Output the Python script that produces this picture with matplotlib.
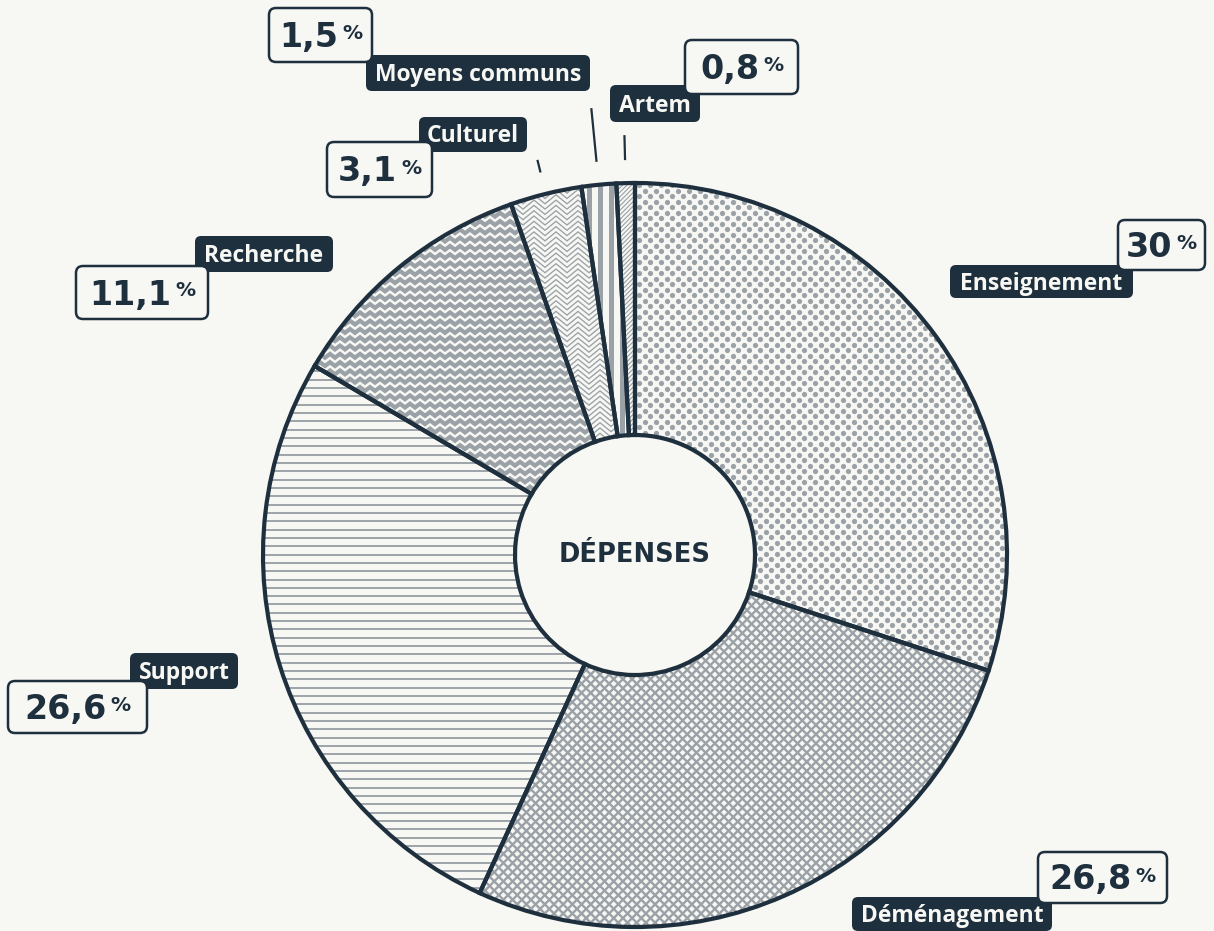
import numpy as np
import matplotlib.pyplot as plt
from matplotlib.patches import FancyBboxPatch, PathPatch
from matplotlib.collections import LineCollection

plt.rcParams['font.family'] = ['Open Sans', 'DejaVu Sans']

categories = ["Enseignement", "Déménagement", "Support", "Recherche",
              "Culturel", "Moyens communs", "Artem"]
values = [30, 26.8, 26.6, 11.1, 3.1, 1.5, 0.8]
value_labels = ["30", "26,8", "26,6", "11,1", "3,1", "1,5", "0,8"]

BG = "#f7f7f3"
DARK = "#1e2f3e"
GREY = "#9aa1a7"

W, H = 1214, 931
cx, cy = 635, 555
R, R_in = 372, 120

# label boxes in pixel units (left, top, width, height)
name_boxes = {
    "Enseignement": (950, 265, 183, 33),
    "Déménagement": (852, 897, 200, 34),
    "Support": (130, 653, 108, 36),
    "Recherche": (195, 236, 138, 36),
    "Culturel": (419, 117, 108, 35),
    "Moyens communs": (366, 55, 224, 36),
    "Artem": (610, 85, 90, 37),
}
value_boxes = {
    "Enseignement": (1118, 220, 87, 50),
    "Déménagement": (1038, 852, 129, 51),
    "Support": (8, 681, 139, 52),
    "Recherche": (76, 266, 132, 53),
    "Culturel": (327, 142, 105, 55),
    "Moyens communs": (269, 8, 103, 54),
    "Artem": (685, 40, 113, 54),
}
leader_r = {"Culturel": (394, 407), "Moyens communs": (395, 449), "Artem": (395, 420)}

fig = plt.figure(figsize=(W / 100, H / 100), dpi=100, facecolor=BG)
ax = fig.add_axes([0, 0, 1, 1])
ax.set_facecolor(BG)

# y axis points down, so counterclockwise in data is clockwise on screen
wedges, _ = ax.pie(values, startangle=-90, counterclock=True, radius=R,
                   center=(cx, cy),
                   wedgeprops=dict(width=R - R_in, facecolor=BG,
                                   edgecolor='none', linewidth=0))
ax.set_xlim(0, W)
ax.set_ylim(H, 0)
ax.set_aspect('equal')
ax.axis('off')

x0, x1 = cx - R - 20, cx + R + 20
y0, y1 = cy - R - 20, cy + R + 20


def add_lines(wedge, segs, lw, join='miter'):
    lc = LineCollection(segs, colors=GREY, linewidths=lw, zorder=2,
                        capstyle='butt', joinstyle=join)
    ax.add_collection(lc)
    lc.set_clip_path(wedge)


def diagonals(step, sign):
    segs = []
    for c in np.arange(-2 * R - 100, 2 * R + 100, step * np.sqrt(2)):
        if sign > 0:   # "/" on screen
            segs.append([(cx + c - (y0 - cy), y0), (cx + c - (y1 - cy), y1)])
        else:          # "\" on screen
            segs.append([(cx + c + (y0 - cy), y0), (cx + c + (y1 - cy), y1)])
    return segs


def zigzags(half, amp, rowstep, anchor=cx):
    # anchor is an x where the zigzag dips (a "V" point)
    n = int((anchor - x0) / (2 * half)) + 1
    xs = np.arange(anchor - 2 * n * half - half, x1 + half, half)
    k = np.arange(len(xs))
    segs = []
    for yr in np.arange(y0, y1, rowstep):
        segs.append(np.column_stack([xs, yr + amp * (k % 2)]))
    return segs


# Enseignement: staggered dots
px, py = [], []
for i, yr in enumerate(np.arange(y0, y1, 5.5)):
    xs = np.arange(x0 + (i % 2) * 5.5, x1, 11)
    px.extend(xs)
    py.extend([yr] * len(xs))
sc = ax.scatter(px, py, s=14, c=GREY, linewidths=0, zorder=2)
sc.set_clip_path(wedges[0])

# Déménagement: diamond cross-hatch
add_lines(wedges[1], diagonals(6.5, 1) + diagonals(6.5, -1), 1.7)

# Support: horizontal rules
add_lines(wedges[2], [[(x0, y), (x1, y)] for y in np.arange(y0, y1, 8.33)], 1.35)

# Recherche: heavy chevrons
add_lines(wedges[3], zigzags(5, 3.8, 8.3), 3.0)

# Culturel: fine chevrons
add_lines(wedges[4], zigzags(11, 9, 5.3, anchor=545), 0.95)

# Moyens communs: vertical stripes
add_lines(wedges[5], [[(x, y0), (x, y1)] for x in np.arange(566.5, 640, 11)], 3.6)

# Artem: fine diagonals
add_lines(wedges[6], diagonals(3.2, 1), 0.8)

# slice outlines on top of the patterns
for w in wedges:
    ax.add_patch(PathPatch(w.get_path(), transform=w.get_transform(),
                           fill=False, ec=DARK, lw=3, zorder=4,
                           joinstyle='miter'))

ax.text(cx, cy, "DÉPENSES", ha='center', va='center', fontsize=18.5,
        fontweight='heavy', color=DARK, family=['DejaVu Sans'], zorder=5)

# leader lines for the thin slices
fr = np.array(values) / sum(values)
mid = -90 + 360 * (np.cumsum(fr) - fr / 2)
for i, name in enumerate(categories):
    if name in leader_r:
        t = np.radians(mid[i])
        r = np.array(leader_r[name])
        ax.plot(cx + r * np.cos(t), cy + r * np.sin(t), color=DARK, lw=1.6,
                solid_capstyle='butt', zorder=5)

renderer = fig.canvas.get_renderer()

# category tags and value boxes
for name, lab in zip(categories, value_labels):
    l, t, w, h = name_boxes[name]
    ax.add_patch(FancyBboxPatch((l, t), w, h,
                                boxstyle="round,pad=0,rounding_size=6",
                                fc=DARK, ec='none', zorder=6))
    ax.text(l + w / 2, t + h / 2 + 8, name, ha='center', va='baseline',
            color=BG, fontsize=16.5, fontweight='bold', zorder=7)

    l, t, w, h = value_boxes[name]
    ax.add_patch(FancyBboxPatch((l, t), w, h,
                                boxstyle="round,pad=0,rounding_size=7",
                                fc=BG, ec=DARK, lw=1.8, zorder=8))
    yb = t + h / 2 + 12
    num = ax.text(0, yb, lab, ha='left', va='baseline', color=DARK,
                  fontsize=24, fontweight='bold', family=['DejaVu Sans'], zorder=9)
    pct = ax.text(0, yb - 8, "%", ha='left', va='baseline', color=DARK,
                  fontsize=14.5, fontweight='bold', family=['DejaVu Sans'], zorder=9)
    wn = num.get_window_extent(renderer).width
    wp = pct.get_window_extent(renderer).width
    start = l + (w - (wn + 4 + wp)) / 2
    num.set_x(start)
    pct.set_x(start + wn + 4)

fig.savefig("out.png", dpi=100, facecolor=BG)
